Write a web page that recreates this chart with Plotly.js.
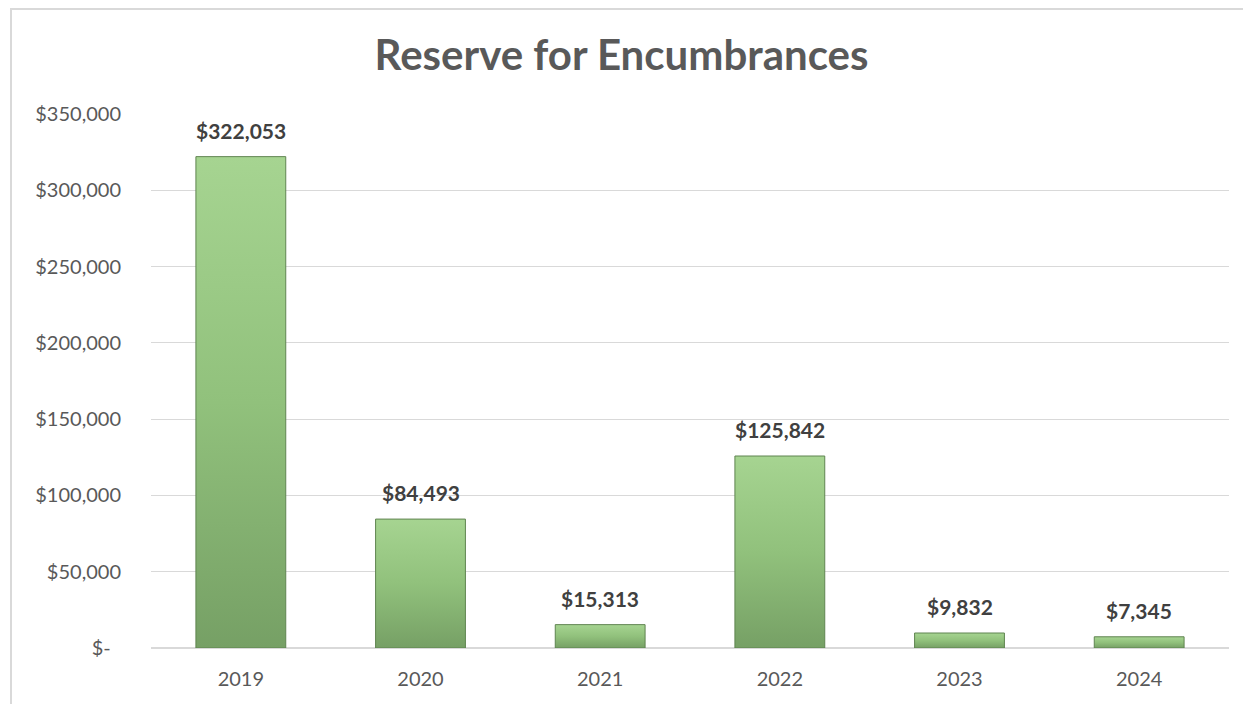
<!DOCTYPE html>
<html>
<head>
<meta charset="utf-8">
<script src="https://cdn.plot.ly/plotly-3.0.1.min.js"></script>
<style>
  html, body { margin: 0; padding: 0; background: #ffffff; }
  #frame { position: absolute; left: 10px; top: 8px; width: 1240px; height: 700px; border: 2px solid #d9d9d9; box-sizing: border-box; }
  #chart { position: absolute; left: 0; top: 0; width: 1243px; height: 704px; }
</style>
</head>
<body>
<div id="frame"></div>
<div id="chart"></div>
<script>
const years = ["2019", "2020", "2021", "2022", "2023", "2024"];
const reserves = [322053, 84493, 15313, 125842, 9832, 7345];
const yTickValues = [0, 50000, 100000, 150000, 200000, 250000, 300000, 350000];
const yTickLabels = ["$-\u00a0\u00a0", "$50,000", "$100,000", "$150,000", "$200,000", "$250,000", "$300,000", "$350,000"];
const dataLabels = ["$322,053", "$84,493", "$15,313", "$125,842", "$9,832", "$7,345"];

const FONT = "Lato, 'Open Sans', sans-serif";

const trace = {
  type: "bar",
  x: years,
  y: reserves,
  width: 0.5,
  marker: { color: "#8fbe79", line: { color: "#5f8450", width: 1 } },
  hoverinfo: "none"
};

const annotations = years.map((yr, i) => ({
  x: i, y: reserves[i], xref: "x", yref: "y",
  text: "<b>" + dataLabels[i] + "</b>",
  showarrow: false, yanchor: "bottom", yshift: 12,
  font: { family: FONT, size: 21, color: "#404040" }
}));

const layout = {
  width: 1243, height: 704,
  margin: { l: 151, r: 14, t: 114, b: 56 },
  paper_bgcolor: "rgba(0,0,0,0)",
  plot_bgcolor: "rgba(0,0,0,0)",
  title: {
    text: "<b>Reserve for Encumbrances</b>",
    x: 0.5, xanchor: "center", xref: "container",
    y: 1 - 55/704, yanchor: "middle", yref: "container",
    font: { family: FONT, size: 42, color: "#595959" }
  },
  showlegend: false,
  xaxis: {
    type: "category",
    categoryorder: "array", categoryarray: years,
    range: [-0.5, years.length - 0.5],
    showgrid: false, zeroline: false, showline: false,
    ticks: "", ticklabelstandoff: 17,
    tickfont: { family: FONT, size: 20, color: "#595959" }
  },
  yaxis: {
    range: [0, 350000],
    tickvals: yTickValues, ticktext: yTickLabels,
    showgrid: true, gridcolor: "#d9d9d9", gridwidth: 1,
    zeroline: true, zerolinecolor: "#d9d9d9", zerolinewidth: 2,
    showline: false, ticks: "", ticklabelstandoff: 29,
    tickfont: { family: FONT, size: 20, color: "#595959" }
  },
  annotations: annotations
};

Plotly.newPlot("chart", [trace], layout, { staticPlot: true, displayModeBar: false }).then(function (gd) {
  const svg = gd.querySelector("svg.main-svg");
  const ns = "http://www.w3.org/2000/svg";
  let defs = svg.querySelector("defs");
  if (!defs) { defs = document.createElementNS(ns, "defs"); svg.insertBefore(defs, svg.firstChild); }
  const grad = document.createElementNS(ns, "linearGradient");
  grad.setAttribute("id", "barGrad");
  grad.setAttribute("x1", "0"); grad.setAttribute("y1", "0");
  grad.setAttribute("x2", "0"); grad.setAttribute("y2", "1");
  [["0", "#a6d491"], ["0.5", "#91c17c"], ["1", "#76a065"]].forEach(function (s) {
    const st = document.createElementNS(ns, "stop");
    st.setAttribute("offset", s[0]); st.setAttribute("stop-color", s[1]);
    grad.appendChild(st);
  });
  defs.appendChild(grad);
  gd.querySelectorAll(".barlayer .point path").forEach(function (p) {
    p.style.fill = "url(#barGrad)";
  });
});
</script>
</body>
</html>
